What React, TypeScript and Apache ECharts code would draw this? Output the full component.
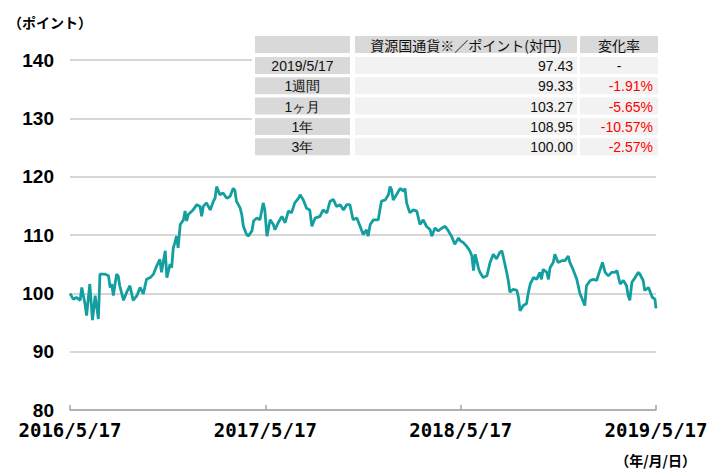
import React, { useEffect, useRef } from "react";
import * as echarts from "echarts";

const dates = [
  "2016-05-17","2016-05-23","2016-05-29","2016-06-05","2016-06-08","2016-06-14","2016-06-17","2016-06-23","2016-06-28","2016-07-03",
  "2016-07-09","2016-07-12","2016-07-21","2016-07-28","2016-07-31","2016-08-03","2016-08-06","2016-08-12","2016-08-15","2016-08-18",
  "2016-08-25","2016-08-31","2016-09-06","2016-09-12","2016-09-19","2016-09-25","2016-10-01","2016-10-07","2016-10-14","2016-10-20",
  "2016-10-26","2016-11-01","2016-11-04","2016-11-11","2016-11-14","2016-11-20","2016-11-23","2016-11-26","2016-11-29","2016-12-02",
  "2016-12-05","2016-12-09","2016-12-15","2016-12-18","2016-12-21","2016-12-24","2017-01-02","2017-01-09","2017-01-15","2017-01-18",
  "2017-01-21","2017-01-27","2017-02-03","2017-02-09","2017-02-12","2017-02-15","2017-02-21","2017-02-27","2017-03-06","2017-03-12",
  "2017-03-18","2017-03-21","2017-03-24","2017-03-31","2017-04-03","2017-04-06","2017-04-12","2017-04-15","2017-04-22","2017-04-25",
  "2017-05-01","2017-05-07","2017-05-13","2017-05-16","2017-05-20","2017-05-26","2017-06-01","2017-06-04","2017-06-10","2017-06-17",
  "2017-06-23","2017-06-29","2017-07-05","2017-07-11","2017-07-18","2017-07-21","2017-07-27","2017-08-02","2017-08-08","2017-08-12",
  "2017-08-18","2017-08-27","2017-09-02","2017-09-09","2017-09-15","2017-09-21","2017-09-27","2017-10-04","2017-10-10","2017-10-16",
  "2017-10-22","2017-10-28","2017-11-04","2017-11-10","2017-11-16","2017-11-22","2017-11-25","2017-11-29","2017-12-05","2017-12-14",
  "2017-12-17","2017-12-20","2017-12-27","2018-01-02","2018-01-05","2018-01-08","2018-01-11","2018-01-17","2018-01-24","2018-01-30",
  "2018-02-02","2018-02-05","2018-02-11","2018-02-17","2018-02-24","2018-03-02","2018-03-08","2018-03-14","2018-03-21","2018-03-24",
  "2018-03-30","2018-04-05","2018-04-12","2018-04-18","2018-04-24","2018-04-30","2018-05-06","2018-05-13","2018-05-17","2018-05-22",
  "2018-05-28","2018-06-03","2018-06-07","2018-06-10","2018-06-13","2018-06-16","2018-06-19","2018-06-22","2018-06-28","2018-07-05",
  "2018-07-11","2018-07-17","2018-07-23","2018-07-29","2018-08-02","2018-08-05","2018-08-11","2018-08-14","2018-08-17","2018-08-23",
  "2018-08-30","2018-09-02","2018-09-05","2018-09-11","2018-09-17","2018-09-20","2018-09-24","2018-09-30","2018-10-06","2018-10-12",
  "2018-10-15","2018-10-18","2018-10-25","2018-10-28","2018-10-31","2018-11-06","2018-11-09","2018-11-15","2018-11-22","2018-11-28",
  "2018-12-04","2018-12-07","2018-12-13","2018-12-20","2018-12-26","2018-12-29","2019-01-04","2019-01-07","2019-01-14","2019-01-20",
  "2019-01-26","2019-02-01","2019-02-06","2019-02-11","2019-02-17","2019-02-23","2019-03-01","2019-03-05","2019-03-11","2019-03-17",
  "2019-03-23","2019-03-26","2019-03-29","2019-04-02","2019-04-08","2019-04-14","2019-04-17","2019-04-23","2019-04-26","2019-05-03",
  "2019-05-10","2019-05-15","2019-05-17"
];

const values = [
  100.0, 99.0, 99.3, 98.8, 101.0, 98.2, 96.2, 101.6, 95.4, 99.6,
  95.6, 103.3, 103.3, 103.0, 101.0, 101.6, 99.6, 103.3, 103.0, 101.3,
  98.8, 100.2, 101.3, 98.8, 99.6, 101.0, 99.9, 102.4, 102.7, 103.3,
  104.7, 105.8, 103.6, 107.3, 102.7, 105.0, 104.4, 107.8, 108.7, 109.8,
  107.8, 111.8, 112.6, 114.1, 112.4, 113.5, 114.3, 115.2, 114.9, 113.2,
  114.9, 115.5, 114.3, 115.8, 116.3, 118.3, 116.9, 117.2, 116.3, 116.6,
  118.0, 117.7, 115.8, 114.6, 113.5, 111.5, 110.1, 109.8, 110.7, 112.4,
  112.9, 112.6, 115.5, 114.3, 109.8, 112.6, 111.8, 110.9, 112.1, 113.2,
  112.1, 114.1, 113.8, 115.5, 116.3, 116.9, 116.0, 114.6, 114.3, 111.5,
  112.9, 113.2, 114.3, 113.8, 115.8, 116.1, 114.9, 115.2, 114.3, 115.2,
  115.2, 112.6, 112.9, 111.5, 110.1, 110.9, 109.8, 111.8, 112.6, 112.6,
  114.3, 115.8, 116.0, 116.9, 118.3, 117.7, 116.0, 116.9, 118.0, 117.5,
  118.0, 115.5, 113.8, 114.3, 114.1, 111.8, 112.6, 111.5, 110.9, 109.8,
  111.2, 110.7, 111.2, 111.5, 110.7, 109.8, 108.4, 109.5, 108.95, 108.7,
  108.1, 107.3, 106.4, 103.9, 106.7, 105.6, 104.4, 103.6, 102.7, 103.0,
  105.3, 106.7, 105.9, 107.0, 107.3, 106.1, 103.6, 102.2, 100.2, 100.7,
  100.5, 99.3, 97.0, 97.9, 98.2, 99.9, 101.6, 102.7, 102.4, 103.6,
  102.4, 104.1, 103.6, 102.4, 104.4, 105.3, 106.7, 105.3, 105.6, 105.6,
  106.4, 105.3, 104.1, 102.4, 99.9, 99.3, 97.9, 101.3, 102.2, 102.4,
  102.2, 103.9, 105.3, 103.6, 103.0, 103.6, 103.6, 103.9, 101.6, 102.2,
  101.3, 99.6, 98.8, 101.9, 102.7, 103.6, 103.27, 102.2, 100.5, 101.0,
  99.33, 99.0, 97.43
];

const xStart = "2016-05-17";
const xEnd = "2019-05-17";
const xTickDates = ["2016-05-17", "2017-05-17", "2018-05-17", "2019-05-17"];
const xTickLabels = ["2016/5/17", "2017/5/17", "2018/5/17", "2019/5/17"];
const yMin = 80;
const yMax = 140;
const yStep = 10;
const yUnit = "（ポイント）";
const xUnit = "（年/月/日）";

const tableHeader = ["", "資源国通貨※／ポイント(対円)", "変化率"];
const tableLabels = ["2019/5/17", "1週間", "1ヶ月", "1年", "3年"];
const tableValues = ["97.43", "99.33", "103.27", "108.95", "100.00"];
const tableChanges = ["-", "-1.91%", "-5.65%", "-10.57%", "-2.57%"];

function toTs(s: string): number {
  const [y, m, d] = s.split("-").map(Number);
  return new Date(y, m - 1, d).getTime();
}

export default function App() {
  const ref = useRef<HTMLDivElement>(null);

  useEffect(() => {
    if (!ref.current) return;
    const chart = echarts.init(ref.current, null, { renderer: "svg" });
    const n = Math.min(dates.length, values.length);
    const seriesData: [number, number][] = [];
    for (let i = 0; i < n; i++) seriesData.push([toTs(dates[i]), values[i]]);
    const tickTs = xTickDates.map(toTs);

    const cjk = "'Noto Sans CJK JP', 'Noto Sans', sans-serif";
    const latin = "'Liberation Sans', Arial, sans-serif";

    const colX = [255, 355, 580];
    const colW = [95, 222, 78];
    const headTop = 36;
    const rowH = 17;
    const rowTop0 = 57;
    const rowPitch = 20.3;
    const g: any[] = [];
    g.push({ type: "rect", shape: { x: 252, y: 33, width: 408, height: 125 }, style: { fill: "#ffffff" }, z: 10 });
    for (let c = 0; c < 3; c++) {
      g.push({ type: "rect", shape: { x: colX[c], y: headTop, width: colW[c], height: rowH }, style: { fill: "#d9d9d9" }, z: 11 });
      if (tableHeader[c]) {
        g.push({
          type: "text", x: colX[c] + colW[c] / 2, y: headTop + rowH / 2 + 0.5, z: 12,
          style: { text: tableHeader[c], fill: "#111", font: `14px ${cjk}`, align: "center", verticalAlign: "middle" },
        });
      }
    }
    for (let r = 0; r < tableLabels.length; r++) {
      const top = rowTop0 + r * rowPitch;
      g.push({ type: "rect", shape: { x: colX[0], y: top, width: colW[0], height: rowH }, style: { fill: "#d9d9d9" }, z: 11 });
      g.push({ type: "rect", shape: { x: colX[1], y: top, width: colW[1], height: rowH }, style: { fill: "#f2f2f2" }, z: 11 });
      g.push({ type: "rect", shape: { x: colX[2], y: top, width: colW[2], height: rowH }, style: { fill: "#f2f2f2" }, z: 11 });
      const cy = top + rowH / 2 + 0.5;
      g.push({
        type: "text", x: colX[0] + colW[0] / 2, y: cy, z: 12,
        style: { text: tableLabels[r], fill: "#111", font: `14px ${latin}`, align: "center", verticalAlign: "middle" },
      });
      g.push({
        type: "text", x: colX[1] + colW[1] - 4, y: cy, z: 12,
        style: { text: tableValues[r], fill: "#111", font: `14px ${latin}`, align: "right", verticalAlign: "middle" },
      });
      const ch = tableChanges[r];
      const neg = ch.startsWith("-") && ch.length > 1;
      g.push({
        type: "text", x: ch === "-" ? colX[2] + colW[2] / 2 : colX[2] + colW[2] - 5, y: cy, z: 12,
        style: { text: ch, fill: neg ? "#ff0000" : "#111", font: `14px ${latin}`, align: ch === "-" ? "center" : "right", verticalAlign: "middle" },
      });
    }
    g.push({
      type: "text", x: 8, y: 22, z: 12,
      style: { text: yUnit, fill: "#000", font: `bold 14px ${cjk}`, align: "left", verticalAlign: "middle" },
    });
    g.push({
      type: "text", x: 696, y: 460, z: 12,
      style: { text: xUnit, fill: "#000", font: `bold 14px ${cjk}`, align: "right", verticalAlign: "middle" },
    });

    chart.setOption({
      animation: false,
      grid: { left: 70, right: 68, top: 60, bottom: 62, containLabel: false },
      xAxis: {
        type: "value",
        min: toTs(xStart),
        max: toTs(xEnd),
        axisLine: { show: true, lineStyle: { color: "#a6a6a6", width: 1.5 } },
        axisTick: { show: true, inside: true, length: 5, lineStyle: { color: "#a6a6a6", width: 1.5 }, customValues: tickTs },
        axisLabel: {
          customValues: tickTs,
          showMinLabel: true,
          showMaxLabel: true,
          hideOverlap: false,
          margin: 10,
          color: "#000",
          fontFamily: "'DejaVu Sans Mono', monospace",
          fontWeight: "bold",
          fontSize: 19,
          formatter: (v: number) => {
            let best = 0;
            let bd = Infinity;
            tickTs.forEach((t, i) => {
              const d = Math.abs(t - v);
              if (d < bd) { bd = d; best = i; }
            });
            return xTickLabels[best];
          },
        },
        splitLine: { show: false },
      },
      yAxis: {
        type: "value",
        min: yMin,
        max: yMax,
        interval: yStep,
        axisLine: { show: false },
        axisTick: { show: false },
        axisLabel: { color: "#000", fontFamily: latin, fontWeight: "bold", fontSize: 19, margin: 16 },
        splitLine: { lineStyle: { color: "#c8c8c8", width: 1.5 } },
      },
      series: [
        {
          type: "line",
          data: seriesData,
          showSymbol: false,
          symbol: "none",
          lineStyle: { color: "#139f9f", width: 2.8 },
          z: 3,
        },
      ],
      graphic: g,
    });

    return () => chart.dispose();
  }, []);

  return (
    <div
      ref={ref}
      style={{ position: "absolute", left: 0, top: 0, width: 724, height: 472 }}
    />
  );
}
